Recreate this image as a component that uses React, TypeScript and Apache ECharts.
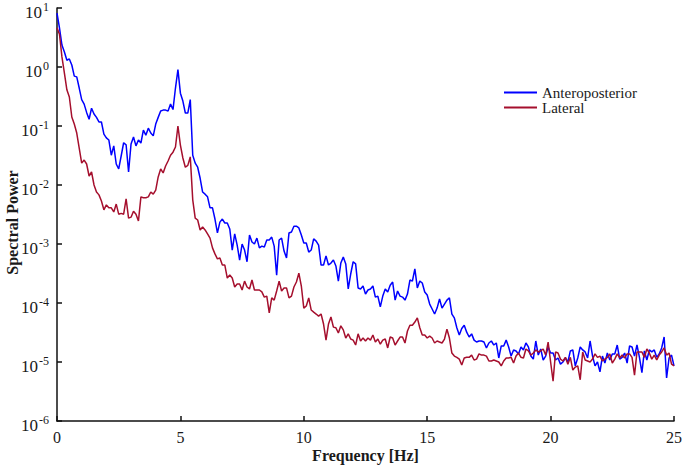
import React, { useEffect, useRef } from "react";
import * as echarts from "echarts";

// Frequency resolution of the spectra (Hz); frequencies run 0 .. 25 Hz
const FREQ_STEP = 0.1;

const seriesNames = ["Anteroposterior", "Lateral"];

// Spectral power, anteroposterior direction (one value per 0.1 Hz from 0 Hz)
const apPower = [
  8.2, 4.6, 2.35, 1.8, 1.3, 1.37, 1.08, 0.7, 0.68, 0.44,
  0.28, 0.235, 0.17, 0.13, 0.2, 0.16, 0.14, 0.117, 0.117, 0.073,
  0.063, 0.058, 0.032, 0.046, 0.0227, 0.0187, 0.031, 0.052, 0.048, 0.0166,
  0.0495, 0.065, 0.046, 0.058, 0.0515, 0.085, 0.07, 0.092, 0.076, 0.068,
  0.108, 0.14, 0.18, 0.186, 0.186, 0.18, 0.235, 0.19, 0.44, 0.9,
  0.36, 0.265, 0.166, 0.166, 0.28, 0.032, 0.0235, 0.02, 0.013, 7.6e-3,
  7.0e-3, 6.3e-3, 4.1e-3, 4.1e-3, 2.65e-3, 1.54e-3, 2.35e-3, 2.65e-3, 2.27e-3, 2.27e-3,
  1.8e-3, 7.9e-4, 1.48e-3, 9.6e-4, 5.35e-4, 1.0e-3, 7.9e-4, 5.0e-4, 1.42e-3, 1.08e-3,
  1.0e-3, 1.26e-3, 8.6e-4, 9.2e-4, 8.9e-4, 1.17e-3, 1.17e-3, 1.31e-3, 9.2e-4, 2.97e-4,
  1.17e-3, 1.26e-3, 7.6e-4, 5.8e-4, 1.54e-3, 1.6e-3, 2.0e-3, 2.0e-3, 1.87e-3, 1.42e-3,
  1.04e-3, 1.04e-3, 7.3e-4, 7.9e-4, 1.22e-3, 1.12e-3, 9.6e-4, 4.4e-4, 4.4e-4, 6.3e-4,
  4.4e-4, 4.75e-4, 5.35e-4, 4.25e-4, 2.35e-4, 4.75e-4, 6.0e-4, 4.6e-4, 1.73e-4, 3.1e-4,
  5.0e-4, 4.6e-4, 1.8e-4, 1.73e-4, 1.94e-4, 1.42e-4, 1.66e-4, 1.73e-4, 1.94e-4, 1.26e-4,
  1.31e-4, 8.6e-5, 1.31e-4, 1.73e-4, 1.54e-4, 2.0e-4, 2.27e-4, 1.12e-4, 1.6e-4, 1.31e-4,
  1.26e-4, 1.12e-4, 1.42e-4, 2.45e-4, 2.35e-4, 3.8e-4, 1.8e-4, 2.35e-4, 2.18e-4, 1.54e-4,
  1.37e-4, 9.6e-5, 7.9e-5, 6.5e-5, 8.2e-5, 1.17e-4, 8.2e-5, 9.6e-5, 1.12e-4, 1.22e-4,
  6.5e-5, 5.6e-5, 3.8e-5, 2.87e-5, 3.7e-5, 4.2e-5, 3.2e-5, 2.65e-5, 3.0e-5, 2.35e-5,
  2.18e-5, 2.27e-5, 2.27e-5, 2.18e-5, 1.73e-5, 2.1e-5, 2.27e-5, 1.94e-5, 2.1e-5, 1.17e-5,
  1.87e-5, 1.87e-5, 2.35e-5, 1.8e-5, 1.26e-5, 1.6e-5, 1.54e-5, 1.37e-5, 1.8e-5, 1.6e-5,
  2.1e-5, 1.8e-5, 1.26e-5, 1.12e-5, 2.27e-5, 1.31e-5, 1.66e-5, 1.08e-5, 1.26e-5, 1.8e-5,
  1.42e-5, 1.42e-5, 1.08e-5, 1.17e-5, 9.2e-6, 1.0e-5, 1.17e-5, 1.0e-5, 1.54e-5, 1.6e-5,
  8.6e-6, 1.17e-5, 1.8e-5, 1.6e-5, 1.48e-5, 1.17e-5, 2.27e-5, 1.26e-5, 8.6e-6, 1.0e-5,
  6.8e-6, 1.26e-5, 9.6e-6, 1.42e-5, 1.08e-5, 1.37e-5, 1.37e-5, 1.94e-5, 1.12e-5, 1.2e-5,
  1.42e-5, 9.6e-6, 1.87e-5, 1.8e-5, 1.26e-5, 1.94e-5, 1.2e-5, 6.6e-6, 1.54e-5, 1.08e-5,
  1.6e-5, 1.48e-5, 1.6e-5, 1.2e-5, 1.37e-5, 1.73e-5, 2.65e-5, 5.35e-6, 1.17e-5, 1.31e-5,
  8.6e-6,
];

// Spectral power, lateral direction (one value per 0.1 Hz from 0 Hz)
const latPower = [
  4.6, 3.6, 1.48, 0.79, 0.41, 0.31, 0.142, 0.108, 0.076, 0.042,
  0.0235, 0.0265, 0.0227, 0.0142, 0.0166, 0.01, 7.6e-3, 6.8e-3, 5.35e-3, 3.8e-3,
  4.6e-3, 4.1e-3, 4.1e-3, 3.5e-3, 4.75e-3, 3.2e-3, 3.3e-3, 3.2e-3, 5.8e-3, 2.75e-3,
  2.85e-3, 3.6e-3, 3.2e-3, 2.45e-3, 6.3e-3, 6.1e-3, 6.1e-3, 6.3e-3, 7.6e-3, 7.0e-3,
  8.2e-3, 0.0137, 0.0187, 0.016, 0.021, 0.0255, 0.032, 0.036, 0.044, 0.1,
  0.0475, 0.0287, 0.02, 0.0215, 0.03, 5.6e-3, 2.75e-3, 2.55e-3, 1.73e-3, 1.94e-3,
  1.73e-3, 1.48e-3, 1.26e-3, 8.6e-4, 6.8e-4, 5.6e-4, 5.8e-4, 4.4e-4, 4.4e-4, 2.65e-4,
  2.97e-4, 2.65e-4, 1.87e-4, 2.1e-4, 2.1e-4, 1.66e-4, 2.35e-4, 1.87e-4, 1.73e-4, 2.45e-4,
  1.66e-4, 1.66e-4, 1.66e-4, 1.54e-4, 1.26e-4, 1.31e-4, 6.8e-5, 1.22e-4, 1.12e-4, 1.6e-4,
  2.35e-4, 1.6e-4, 1.8e-4, 1.8e-4, 1.22e-4, 1.31e-4, 1.87e-4, 2.27e-4, 3.2e-4, 1.94e-4,
  8.2e-5, 8.9e-5, 1.22e-4, 7.6e-5, 7.0e-5, 6.5e-5, 6.0e-5, 6.5e-5, 4.4e-5, 2.35e-5,
  4.4e-5, 5.8e-5, 3.9e-5, 3.8e-5, 3.1e-5, 4.1e-5, 3.5e-5, 2.55e-5, 3.0e-5, 2.45e-5,
  2.35e-5, 1.94e-5, 3.0e-5, 2.27e-5, 2.55e-5, 2.27e-5, 2.55e-5, 2.35e-5, 2.87e-5, 2.18e-5,
  2.45e-5, 2.0e-5, 2.35e-5, 2.45e-5, 1.73e-5, 2.65e-5, 2.55e-5, 1.94e-5, 2.27e-5, 2.65e-5,
  2.65e-5, 2.1e-5, 3.35e-5, 4.2e-5, 4.2e-5, 4.75e-5, 5.6e-5, 3.8e-5, 2.87e-5, 2.87e-5,
  2.55e-5, 2.75e-5, 2.55e-5, 2.1e-5, 2.27e-5, 2.18e-5, 2.1e-5, 2.45e-5, 3.6e-5, 2.55e-5,
  1.42e-5, 1.26e-5, 1.2e-5, 1.12e-5, 8.9e-6, 1.17e-5, 1.2e-5, 1.2e-5, 1.31e-5, 1.08e-5,
  1.12e-5, 1.37e-5, 1.31e-5, 1.31e-5, 1.26e-5, 1.04e-5, 1.04e-5, 1.08e-5, 1.04e-5, 1.0e-5,
  8.6e-6, 1.04e-5, 1.17e-5, 1.17e-5, 1.2e-5, 9.6e-6, 1.26e-5, 1.42e-5, 1.2e-5, 1.17e-5,
  1.66e-5, 1.54e-5, 1.31e-5, 1.42e-5, 1.6e-5, 1.48e-5, 1.54e-5, 1.66e-5, 1.31e-5, 2.18e-5,
  1.0e-5, 4.75e-6, 1.48e-5, 1.42e-5, 1.12e-5, 1.04e-5, 1.2e-5, 9.2e-6, 1.2e-5, 7.3e-6,
  8.2e-6, 8.6e-6, 5.0e-6, 1.48e-5, 1.08e-5, 1.04e-5, 1.0e-5, 1.12e-5, 1.37e-5, 1.2e-5,
  1.26e-5, 1.04e-5, 1.12e-5, 1.2e-5, 1.37e-5, 9.6e-6, 1.12e-5, 1.37e-5, 1.17e-5, 1.31e-5,
  1.17e-5, 1.37e-5, 1.37e-5, 1.2e-5, 6.0e-6, 1.48e-5, 1.48e-5, 1.48e-5, 1.2e-5, 1.66e-5,
  1.42e-5, 1.12e-5, 1.31e-5, 1.08e-5, 1.31e-5, 1.48e-5, 1.73e-5, 1.31e-5, 1.42e-5, 9.2e-6,
  8.6e-6,
];

const xTicks = [0, 5, 10, 15, 20, 25];
const yMin = 1e-6;
const yMax = 1e1;

const SERIF = '"Liberation Serif", "Times New Roman", serif';
const TEXT = "#1a1a1a";

function toPairs(values: number[]) {
  return values.map((v, i) => [Math.round(i * FREQ_STEP * 10) / 10, v]);
}

export default function App() {
  const ref = useRef<HTMLDivElement>(null);

  useEffect(() => {
    if (!ref.current) return;
    const chart = echarts.init(ref.current, null, { renderer: "svg" });
    chart.setOption({
      animation: false,
      backgroundColor: "#ffffff",
      grid: { left: 57, right: 11, top: 8, bottom: 44, containLabel: false, outerBoundsMode: "none" },
      legend: {
        data: seriesNames,
        orient: "vertical",
        left: 499,
        top: 80,
        itemGap: 0,
        itemWidth: 33,
        itemHeight: 2,
        icon: "rect",
        textStyle: { fontFamily: SERIF, fontSize: 15, color: TEXT },
      },
      xAxis: {
        type: "value",
        min: xTicks[0],
        max: xTicks[xTicks.length - 1],
        interval: 5,
        name: "Frequency [Hz]",
        nameLocation: "middle",
        nameGap: 26,
        nameMoveOverlap: false,
        nameTextStyle: { fontFamily: SERIF, fontSize: 16, fontWeight: "bold", color: TEXT },
        axisLine: { lineStyle: { color: "#111", width: 1.5 } },
        axisTick: { inside: true, length: 5, lineStyle: { color: "#111", width: 1.5 } },
        axisLabel: { fontFamily: SERIF, fontSize: 16, color: TEXT, margin: 8 },
        splitLine: { show: false },
      },
      yAxis: {
        type: "log",
        logBase: 10,
        min: yMin,
        max: yMax,
        name: "Spectral Power",
        nameLocation: "middle",
        nameGap: 37,
        nameMoveOverlap: false,
        nameTextStyle: { fontFamily: SERIF, fontSize: 16, fontWeight: "bold", color: TEXT, padding: [0, 0, 0, -16] },
        axisLine: { show: true, lineStyle: { color: "#111", width: 1.5 } },
        axisTick: { show: true, inside: true, length: 5, lineStyle: { color: "#111", width: 1.5 } },
        minorTick: { show: false },
        splitLine: { show: false },
        axisLabel: {
          margin: 8,
          padding: [8, 0, 0, 0],
          formatter: (v: number) => "{b|10}{s|" + Math.round(Math.log10(v)) + "}",
          rich: {
            b: { fontFamily: SERIF, fontSize: 17, color: TEXT, lineHeight: 22 },
            s: { fontFamily: SERIF, fontSize: 12, color: TEXT, verticalAlign: "top", lineHeight: 12, padding: [0, 0, 6, 1] },
          },
        },
      },
      series: [
        {
          name: seriesNames[0],
          type: "line",
          data: toPairs(apPower),
          showSymbol: false,
          symbol: "none",
          lineStyle: { color: "#0000ff", width: 1.5 },
          itemStyle: { color: "#0000ff" },
        },
        {
          name: seriesNames[1],
          type: "line",
          data: toPairs(latPower),
          showSymbol: false,
          symbol: "none",
          lineStyle: { color: "#a50f2d", width: 1.5 },
          itemStyle: { color: "#a50f2d" },
        },
      ],
    });
    return () => chart.dispose();
  }, []);

  return (
    <div
      ref={ref}
      style={{ position: "absolute", left: 0, top: 0, width: 685, height: 465 }}
    />
  );
}
